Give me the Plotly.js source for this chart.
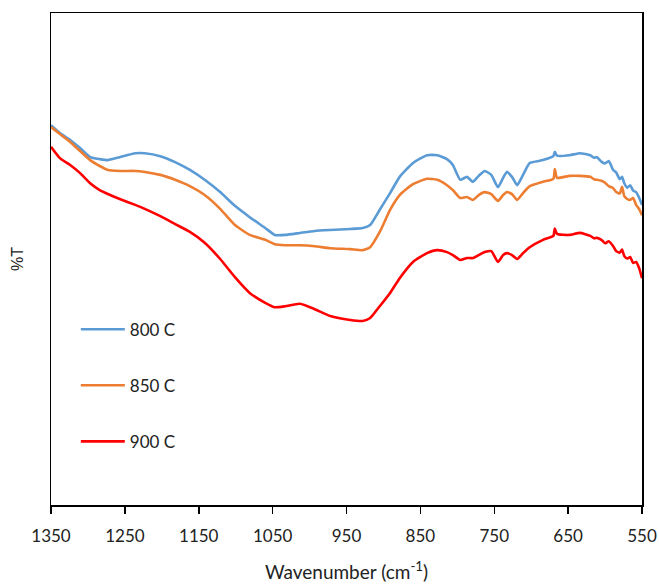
<!DOCTYPE html>
<html>
<head>
<meta charset="utf-8">
<script src="https://cdn.plot.ly/plotly-3.0.1.min.js"></script>
<style>html,body{margin:0;padding:0;background:#fff;}#chart{width:659px;height:584px;}</style>
</head>
<body>
<div id="chart"></div>
<script>
// Wavenumber (cm-1)
const wavenumber = [1350,1338,1324,1311,1297,1284,1273,1257,1236,1223,1202,1182,1162,1142,1121,1101,1081,1060,1047,1033,1013,993,972,945,928,918,905,891,878,860,841,827,814,806,796,787,779,771,763,754,745,738,733,726,719,711,702,684,670,668,665,648,634,620,615,611,605,600,595,589,585,580,577,574,570,566,562,558,554,550];
// %T (arbitrary offset units)
const t800 = [77.2,75.6,74.2,72.6,70.7,70.3,70.1,70.7,71.5,71.5,70.9,69.7,68.1,66.1,63.6,60.8,58.5,56.3,54.9,54.9,55.3,55.7,55.9,56.1,56.3,56.9,60.0,63.4,66.7,69.5,71.1,71.1,70.3,69.1,66.1,66.7,65.7,66.9,67.9,67.1,64.6,66.5,67.7,66.7,65.0,67.1,69.5,70.1,70.9,71.8,71.0,71.1,71.5,71.1,70.6,70.7,69.8,69.4,69.9,68.1,67.6,66.2,66.7,65.4,64.5,65.0,63.9,63.6,62.5,61.0];
const t850 = [76.8,75.4,73.8,72.0,70.1,68.9,68.1,67.9,67.9,67.7,67.1,66.1,64.8,63.0,60.2,56.9,54.9,53.9,53.0,52.8,52.8,52.6,52.2,52.0,51.8,52.4,55.5,60.0,63.0,65.2,66.3,66.1,65.0,64.0,62.4,62.6,62.0,63.0,63.6,63.2,61.8,63.0,63.6,63.2,62.0,63.4,64.8,65.7,66.3,68.3,66.5,66.9,66.9,66.7,66.2,66.1,65.9,65.5,64.8,64.4,63.6,63.3,64.7,62.8,62.2,62.0,62.4,61.0,60.2,58.9];
const t900 = [72.8,70.5,69.1,67.5,65.4,64.0,63.2,62.2,61.0,60.2,58.7,57.1,55.5,53.3,50.0,46.3,43.1,41.1,40.2,40.4,40.9,39.8,38.4,37.6,37.4,38.0,40.4,43.1,46.1,49.4,51.2,51.8,51.4,50.8,49.8,50.2,50.2,50.8,51.4,51.6,49.4,50.8,51.2,50.8,50.0,51.2,52.4,53.9,54.7,56.2,55.1,54.9,55.3,54.7,54.2,54.3,53.9,53.2,53.6,52.6,51.6,51.3,51.9,50.6,50.1,50.4,49.2,49.4,48.2,46.1];
const seriesNames = ['800 C','850 C','900 C'];
const tickVals = [1350,1250,1150,1050,950,850,750,650,550];

const colors = ['#5B9BD5','#ED7D31','#FF0000'];
const ys = [t800,t850,t900];
const traces = ys.map((y,i)=>({
  x: wavenumber, y: y, type:'scatter', mode:'lines', name: seriesNames[i],
  legendgroup: 'g'+i,
  line:{color:colors[i], width:2.6, shape:'spline', smoothing:0.5}
}));

const font = "Lato, 'Open Sans', sans-serif";
const layout = {
  width:659, height:584,
  margin:{l:51, r:17, t:13, b:79},
  paper_bgcolor:'#fff', plot_bgcolor:'#fff',
  showlegend:true,
  legend:{x:0.042, y:0.393, xanchor:'left', yanchor:'top', traceorder:'grouped', tracegroupgap:31,
    itemwidth:44,
    font:{family:font, size:17, color:'#222'}, bgcolor:'rgba(0,0,0,0)'},
  xaxis:{
    range:[1350,550], tickmode:'array', tickvals:tickVals, ticktext:tickVals.map(String),
    showline:true, linecolor:'#000', linewidth:1.5, mirror:true,
    ticks:'outside', ticklen:7, tickwidth:1.5, tickcolor:'#000',
    ticklabelstandoff:8,
    showgrid:false, zeroline:false,
    tickfont:{family:font, size:17, color:'#222'},
    title:{text:'Wavenumber (cm<sup>-1</sup>)', font:{family:font, size:19, color:'#222'}, standoff:21}
  },
  yaxis:{
    range:[0,100], showticklabels:false, ticks:'', showgrid:false, zeroline:false,
    showline:true, linecolor:'#000', linewidth:1.5, mirror:true,
    title:{text:'%T', font:{family:"'Liberation Sans', Arial, sans-serif", size:16, color:'#222'}, standoff:22}
  }
};
Plotly.newPlot('chart', traces, layout, {displayModeBar:false, staticPlot:true});
</script>
</body>
</html>
